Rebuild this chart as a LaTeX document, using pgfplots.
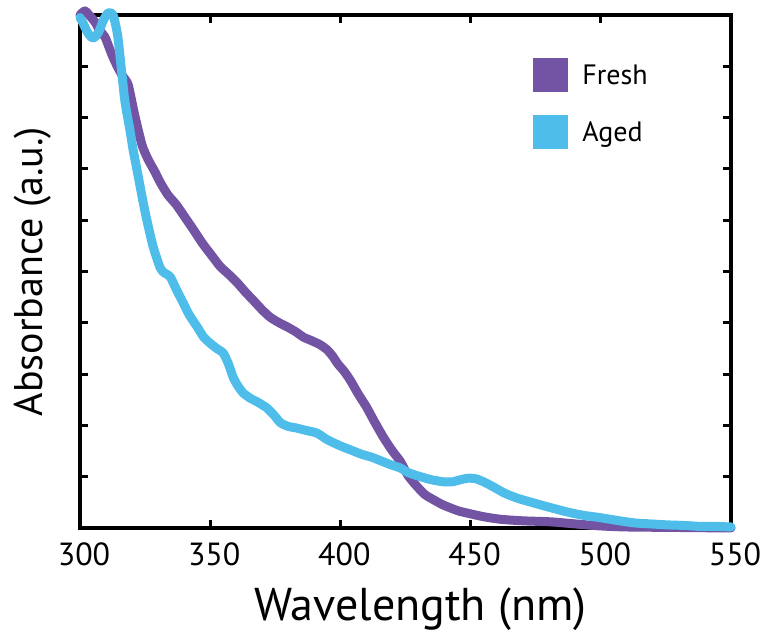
\documentclass[border=0pt]{standalone}
\usepackage{fontspec}
\setmainfont{PT Sans}
\usepackage{pgfplots}
\pgfplotsset{compat=1.18}
\definecolor{fresh}{HTML}{7354A4}
\definecolor{aged}{HTML}{4EBDEA}
\begin{document}
\begin{tikzpicture}
\begin{axis}[
  scale only axis,
  width=651pt, height=513pt,
  xmin=300, xmax=550, ymin=0, ymax=10,
  xtick={300,350,...,550},
  ytick={0,1,...,10},
  yticklabels={},
  tick align=inside,
  major tick length=8pt,
  every tick/.style={line width=3pt,black},
  axis line style={line width=4pt},
  clip=false,
  /pgf/number format/assume math mode=true,
  ticklabel style={font=\fontsize{32}{32}\selectfont},
  xticklabel style={yshift=-11pt, xshift=4pt},
  xlabel={Wavelength (nm)},
  ylabel={Absorbance (a.u.)},
  xlabel style={font=\fontsize{46}{46}\selectfont, yshift=-15pt, xshift=15pt},
  ylabel style={font=\fontsize{40}{40}\selectfont, yshift=18pt},
  legend image code/.code={\fill[#1,draw=none] (0pt,-17pt) rectangle (35pt,17pt);},
  legend style={draw=none, fill=none, at={(0.696,0.916)}, anchor=north west,
    font=\fontsize{28}{28}\selectfont, row sep=23pt, inner sep=0pt,
    /tikz/every even column/.append style={column sep=0pt}},
  legend cell align=left,
]
\addplot[color=fresh, line width=9pt, line join=round, line cap=round, smooth, tension=0.4] coordinates {
(300,10.0) (301.9,10.08) (303.5,10.0) (305.8,9.86) (307.5,9.7) (309.6,9.57) (312.3,9.22) (314.6,8.97) (316.5,8.8) (318.5,8.64) (321,8.05) (323.8,7.47) (326,7.2) (328.8,6.94) (331,6.72) (333.8,6.49) (337,6.3) (340.4,6.05) (343.5,5.82) (347,5.55) (350,5.35) (353.8,5.1) (357,4.95) (360.4,4.78) (363.5,4.6) (366.5,4.44) (370,4.25) (373,4.11) (376.5,4.0) (379.6,3.92) (383,3.82) (385.8,3.72) (389,3.65) (392.3,3.57) (395,3.47) (397,3.35) (399,3.2) (401.5,3.05) (403.8,2.88) (407,2.6) (410,2.36) (413,2.08) (416.5,1.77) (420,1.5) (423,1.3) (426,1.02) (429.6,0.8) (432.5,0.65) (435.8,0.55) (439,0.46) (442.3,0.39) (445.5,0.33) (448.8,0.29) (455,0.22) (461.5,0.17) (470,0.14) (480.8,0.12) (490,0.08) (500,0.04) (510,0.02) (530,0.01) (550,0.0)
};
\addlegendentry{\hspace{12pt}Fresh}
\addplot[color=aged, line width=9pt, line join=round, line cap=round, smooth, tension=0.4] coordinates {
(300,9.95) (301,9.86) (303,9.65) (305,9.55) (307,9.65) (309,9.9) (310.8,10.04) (312.5,10.02) (313.5,9.85) (314.6,9.55) (316,8.89) (317.3,8.3) (319.2,7.75) (320.4,7.37) (322,6.95) (325,6.16) (328,5.5) (330.8,5.07) (332.5,4.97) (334.6,4.9) (337,4.65) (339.6,4.39) (342,4.15) (345,3.92) (347.5,3.72) (350,3.6) (352.5,3.5) (355,3.41) (357,3.2) (358.8,2.94) (360.5,2.78) (362.7,2.63) (365.4,2.53) (368,2.46) (370,2.4) (372,2.33) (374.5,2.2) (377,2.05) (380,1.98) (383,1.95) (387,1.9) (391,1.85) (395,1.72) (400,1.6) (404,1.52) (408,1.44) (412,1.38) (416,1.3) (419,1.24) (423,1.17) (426,1.08) (430.8,1.0) (435,0.94) (439.6,0.9) (443,0.9) (446,0.94) (449,0.97) (452,0.96) (455,0.9) (458.8,0.8) (463,0.68) (468,0.58) (472,0.52) (476.9,0.45) (482,0.38) (487.3,0.31) (493,0.25) (500,0.2) (506,0.15) (512.7,0.1) (519,0.08) (525.8,0.06) (532,0.05) (538.5,0.03) (545,0.03) (550,0.02)
};
\addlegendentry{\hspace{12pt}Aged}
\end{axis}
\pgfresetboundingbox
\path (-80pt,-106pt) rectangle (681pt,528pt);
\end{tikzpicture}
\end{document}
